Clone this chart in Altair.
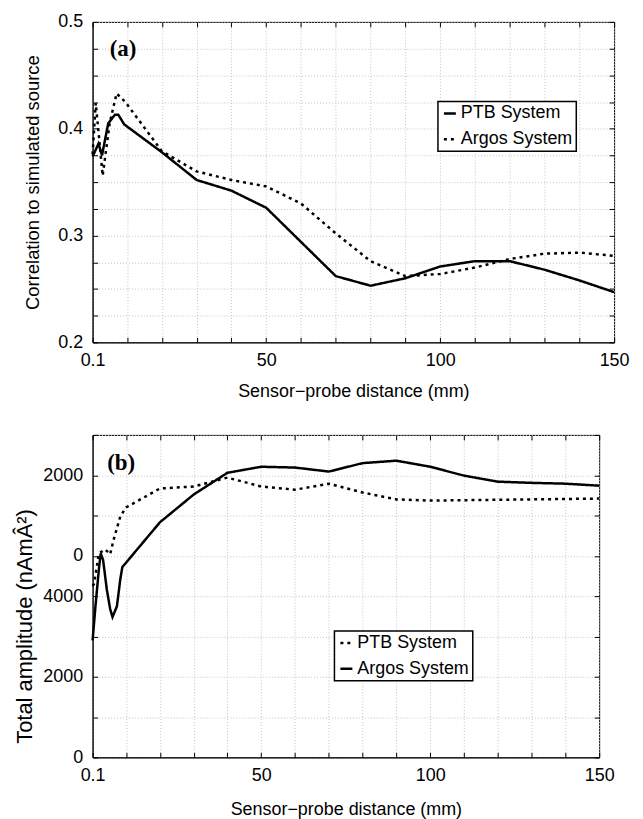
import altair as alt
import pandas as pd

# ---------------- data: panel (a) correlation ----------------
a_ptb_x = [0.1, 1.8, 2.8, 4.6, 6.5, 7.5, 9.2, 20, 30, 40, 50, 60, 70, 80, 90, 100, 110, 120, 130, 140, 150]
a_ptb_y = [0.374, 0.386, 0.375, 0.405, 0.413, 0.413, 0.404, 0.378, 0.352, 0.342, 0.326, 0.294, 0.262,
           0.253, 0.260, 0.271, 0.276, 0.276, 0.268, 0.258, 0.247]
a_argos_x = [0.1, 1, 3, 5, 7, 9.5, 20, 30, 40, 50, 60, 70, 80, 90, 100, 110, 120, 130, 140, 150]
a_argos_y = [0.376, 0.424, 0.356, 0.405, 0.433, 0.425, 0.379, 0.360, 0.352, 0.346, 0.330, 0.302, 0.276,
             0.262, 0.264, 0.270, 0.278, 0.283, 0.284, 0.281]

# ---------------- data: panel (b) total amplitude ----------------
b_ptb_x = [0.1, 0.5, 2, 3.8, 5.3, 6.2, 8.3, 10, 20, 30, 40, 50, 60, 70, 80, 90, 100, 110, 120, 130, 140, 150]
b_ptb_y = [4250, 4300, 5060, 5160, 5040, 5360, 5980, 6200, 6670, 6720, 6940, 6720, 6640, 6790, 6570,
           6400, 6370, 6380, 6390, 6400, 6410, 6420]
b_argos_x = [0.1, 1, 2, 2.5, 3.2, 4.3, 5.3, 6, 7.3, 8.3, 8.9, 20, 30, 40, 50, 60, 70, 80, 90, 100,
             110, 120, 130, 140, 150]
b_argos_y = [2900, 3800, 4700, 5060, 4900, 4170, 3680, 3480, 3750, 4420, 4720, 5830, 6520, 7060, 7210,
             7190, 7090, 7300, 7360, 7210, 6990, 6840, 6810, 6790, 6740]

series_names = ["PTB System", "Argos System"]

# ---------------- ticks ----------------
x_tick_values = [0.1, 10, 20, 30, 40, 50, 60, 70, 80, 90, 100, 110, 120, 130, 140, 150]
x_tick_labels = ["0.1", "", "", "", "", "50", "", "", "", "", "100", "", "", "", "", "150"]
a_y_tick_values = [0.2, 0.225, 0.25, 0.275, 0.3, 0.325, 0.35, 0.375, 0.4, 0.425, 0.45, 0.475, 0.5]
a_y_tick_labels = ["0.2", "", "", "", "0.3", "", "", "", "0.4", "", "", "", "0.5"]
b_y_tick_values = [0, 1000, 2000, 3000, 4000, 5000, 6000, 7000, 8000]
b_y_tick_labels = ["0", "", "2000", "", "4000", "0", "", "2000", ""]

x_title = "Sensor\u2212probe distance (mm)"
a_y_title = "Correlation to simulated source"
b_y_title = "Total amplitude (nAm\u00c2\u00b2)"

tag_a = pd.DataFrame({"x": [5.0], "y": [0.475], "t": ["(a)"]})
tag_b = pd.DataFrame({"x": [4.4], "y": [7300], "t": ["(b)"]})

SANS = "Liberation Sans"
SERIF = "Liberation Serif"


def label_expr(values, labels):
    parts = [f"abs(datum.value - ({v})) < 1e-6 ? '{l}'" for v, l in zip(values, labels) if l]
    return " : ".join(parts) + " : ''"


def make_df(ptb_x, ptb_y, argos_x, argos_y):
    return pd.concat([
        pd.DataFrame({"x": ptb_x, "y": ptb_y, "System": series_names[0]}),
        pd.DataFrame({"x": argos_x, "y": argos_y, "System": series_names[1]}),
    ], ignore_index=True)


def panel(df, tag, dash_range, y_domain, y_ticks, y_labels, y_title, width, height,
          legend_x, legend_y, y_title_padding, y_title_size, x_title_padding, y_title_y=None):
    xs = alt.Scale(domain=[0.1, 150], nice=False, zero=False)
    ys = alt.Scale(domain=y_domain, nice=False, zero=False)

    y_axis_kw = dict(orient="left", values=y_ticks, labelExpr=label_expr(y_ticks, y_labels),
                     ticks=False, tickSize=0, grid=True, gridColor="#c4c4c4", gridDash=[1, 2],
                     domainColor="black", labelPadding=10, labelFlush=False, title=y_title,
                     titlePadding=y_title_padding, titleFontSize=y_title_size)
    if y_title_y is not None:
        y_axis_kw["titleY"] = y_title_y

    lines = alt.Chart(df).mark_line(strokeWidth=2.5, color="black").encode(
        x=alt.X("x:Q", scale=xs, axis=alt.Axis(
            orient="bottom", values=x_tick_values, labelExpr=label_expr(x_tick_values, x_tick_labels),
            ticks=False, tickSize=0, grid=True, gridColor="#c4c4c4", gridDash=[1, 2],
            domainColor="black", labelPadding=9, labelFlush=False, title=x_title,
            titlePadding=x_title_padding)),
        y=alt.Y("y:Q", scale=ys, axis=alt.Axis(**y_axis_kw)),
        strokeDash=alt.StrokeDash("System:N", scale=alt.Scale(domain=series_names, range=dash_range),
                                  legend=alt.Legend(title=None, orient="none", legendX=legend_x,
                                                    legendY=legend_y)),
    )

    def tick_axis(orient, values):
        return alt.Axis(orient=orient, values=values, labels=False, domain=False, grid=False,
                        ticks=True, tickSize=5, tickColor="black", tickWidth=1, offset=-5, title=None)

    ticks_bl = alt.Chart(tag).mark_point(opacity=0).encode(
        x=alt.X("x:Q", scale=xs, axis=tick_axis("bottom", x_tick_values)),
        y=alt.Y("y:Q", scale=ys, axis=tick_axis("left", y_ticks)),
    )
    ticks_tr = alt.Chart(tag).mark_point(opacity=0).encode(
        x=alt.X("x:Q", scale=xs, axis=tick_axis("top", x_tick_values)),
        y=alt.Y("y:Q", scale=ys, axis=tick_axis("right", y_ticks)),
    )
    label = alt.Chart(tag).mark_text(font=SERIF, fontWeight="bold", fontSize=23, align="left",
                                     baseline="middle", color="black").encode(
        x=alt.X("x:Q", scale=xs, axis=None),
        y=alt.Y("y:Q", scale=ys, axis=None),
        text="t:N",
    )
    return alt.layer(lines, ticks_bl, ticks_tr, label).resolve_axis(
        x="independent", y="independent").properties(width=width, height=height)


df_a = make_df(a_ptb_x, a_ptb_y, a_argos_x, a_argos_y)
df_b = make_df(b_ptb_x, b_ptb_y, b_argos_x, b_argos_y)

solid = [1, 0]
dotted = [3, 4]

chart_a = panel(df_a, tag_a, [solid, dotted], [0.2, 0.5], a_y_tick_values, a_y_tick_labels, a_y_title,
                524, 322, 347, 80, 15, 18.5, 13)
chart_b = panel(df_b, tag_b, [dotted, solid], [0, 8000], b_y_tick_values, b_y_tick_labels, b_y_title,
                509, 324, 243, 197, 6, 22, 16, 192)

chart = alt.vconcat(chart_a, chart_b, spacing=33).resolve_scale(
    strokeDash="independent").resolve_legend(strokeDash="independent").properties(
    padding={"left": 5, "top": 2, "right": 5, "bottom": 0}
).configure_view(stroke="black", strokeWidth=1).configure_axis(
    labelFont=SANS, titleFont=SANS, labelFontSize=18, titleFontSize=18, labelColor="black",
    titleColor="black", titleFontWeight="normal"
).configure_legend(
    labelFont=SANS, labelFontSize=18, labelColor="black", fillColor="white", strokeColor="black",
    strokeWidth=1.5, padding=3, symbolType="stroke", symbolStrokeWidth=2.5, symbolSize=144,
    symbolStrokeColor="black", labelOffset=2, rowPadding=8, cornerRadius=0
)

chart.save("out.html", embed_options={"renderer": "svg", "actions": False})
